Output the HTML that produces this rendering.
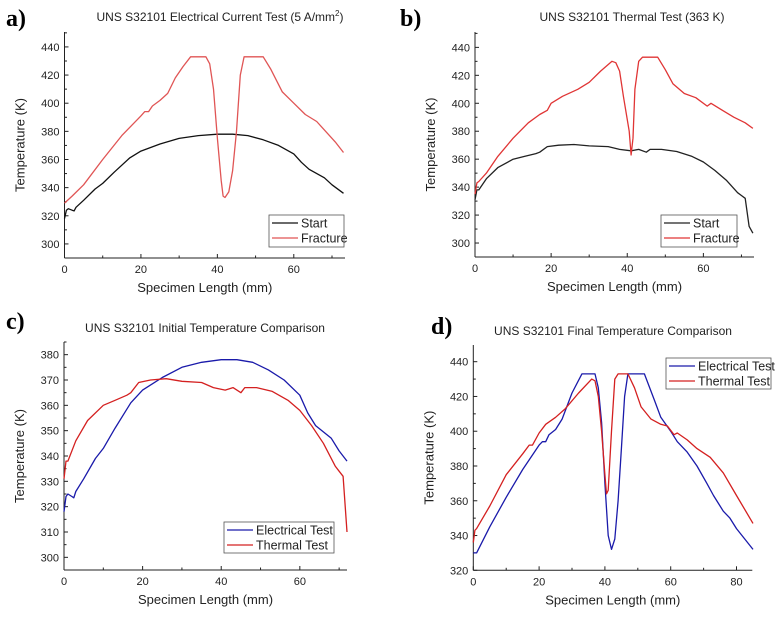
<!DOCTYPE html>
<html><head><meta charset="utf-8">
<style>
body{margin:0;background:#fff;width:781px;height:616px;overflow:hidden}
svg text{font-family:"Liberation Sans",Arial,sans-serif;fill:#222}
.lbl{font-family:"Liberation Serif",serif;font-weight:bold;font-size:24px;fill:#000}
</style></head><body>
<svg id="fig" width="781" height="616" viewBox="0 0 781 616" xmlns="http://www.w3.org/2000/svg"></svg>
<script>
// Panel a
const aStartX=[0,0.5,1,2,2.5,3,5,8,10,13,17,20,25,30,35,40,44,48,52,56,60,62,64,68,70,73];
const aStartY=[318,324,325,324,323.5,326,331,339,343,351,361,366,371,375,377,378,378,377,374,370,364,358,353,347,342,336];
const aFracX=[0,2,5,10,15,20,21,22,23,25,27,29,31,33,37,38,39,40,41,41.5,42,43,44,45,46,47,52,54,57,60,63,66,69,71,73];
const aFracY=[329,334,342,360,377,391,394,394,398,402,407,418,426,433,433,428,410,375,345,334,333,337,352,380,420,433,433,424,408,400,392,387,378,372,365];
// Panel b
const bStartX=[0,0.5,1,3,6,10,13,16,17,19,22,26,30,35,38,41,43,45,46,49,53,57,60,63,66,69,70,71,72,73];
const bStartY=[331,338,338,346,354,360,362,364,365,369,370,370.5,369.5,369,367,366,367,365,367,367,365.5,362,358,352,345,336,334,332,312,307];
const bFracX=[0,0.5,1,3,6,10,14,17,19,20,23,27,30,33,36,37,38,39,40.5,41,41.5,42,43,44,48,50,52,55,58,61,62,65,68,71,73];
const bFracY=[335,343,344,350,362,375,386,392,395,400,405,410,415,423,430,429,423,405,380,363,375,410,430,433,433,424,414,407,404,398,400,395,390,386,382];
// Panel c
const cElecX=[0,0.5,1,2,2.5,3,5,8,10,13,17,20,25,30,35,40,44,48,52,56,60,62,64,68,70,72];
const cElecY=[318,324,325,324,323.5,326,331,339,343,351,361,366,371,375,377,378,378,377,374,370,364,357,352,347,342,338];
const cThermX=[0,0.5,1,3,6,10,13,16,17,19,22,26,30,35,38,41,43,45,46,49,53,57,60,63,66,69,70,71,72];
const cThermY=[331,338,338,346,354,360,362,364,365,369,370,370.5,369.5,369,367,366,367,365,367,367,365.5,362,358,352,345,336,334,332,310];
// Panel d
const dElecX=[0,1,5,10,15,20,21,22,23,25,27,30,33,37,38,39,40,41,42,43,44,45,46,47,52,55,57,60,62,65,68,71,73,76,78,80,85];
const dElecY=[330,330,345,362,378,392,394,394,398,401,407,422,433,433,425,405,370,340,332,338,360,390,420,433,433,418,408,400,394,388,380,370,363,354,350,344,332];
const dThermX=[0,0.5,1,5,10,15,17,18,20,22,25,28,32,36,37,38,39,40,40.5,41,42,43,44,47,49,51,54,57,59,61,62,65,68,72,76,80,85];
const dThermY=[336,343,344,357,375,387,392,392,399,404,408,413,422,430,429,420,400,375,364,366,400,430,433,433,425,414,407,404,403,398,399,395,390,385,376,363,347];
const ticksA=[300,320,340,360,380,400,420,440];
const ticksC=[300,310,320,330,340,350,360,370,380];
const ticksD=[320,340,360,380,400,420,440];
const xTicks60=[0,20,40,60];
const xTicks80=[0,20,40,60,80];

const svg=document.getElementById('fig');
const NS='http://www.w3.org/2000/svg';
function mk(tag,attrs,parent){const e=document.createElementNS(NS,tag);for(const k in attrs)e.setAttribute(k,attrs[k]);(parent||svg).appendChild(e);return e;}

function panel(p){
  const g=mk('g',{});
  
  
  const sx=v=>p.x0+(v-p.xmin)/(p.xmax-p.xmin)*(p.x1-p.x0);
  const sy=v=>p.y0-(v-p.ymin)/(p.ymax-p.ymin)*(p.y0-p.y1);
  const l=mk('text',{x:p.lx,y:p.ly,class:'lbl'},g);l.textContent=p.label;
  
  
  const t=mk('text',{x:p.tx,y:p.ty,'font-size':12,'text-anchor':'middle'},g);t.innerHTML=p.title;
  
  
  mk('line',{x1:p.x0,y1:p.y1,x2:p.x0,y2:p.y0,stroke:'#222','stroke-width':1},g);
  mk('line',{x1:p.x0,y1:p.y0,x2:p.x1,y2:p.y0,stroke:'#222','stroke-width':1},g);
  const ys=p.yt[1]-p.yt[0];
  for(let v=p.yt[0]-ys/2;v<=p.ymax;v+=ys/2){
    if(v<p.ymin)continue;
    const major=Math.abs(((v-p.yt[0])/ys)%1)<1e-6;
    mk('line',{x1:p.x0,x2:p.x0+(major?4:2.5),y1:sy(v),y2:sy(v),stroke:'#222'},g);
  }
  p.yt.forEach(v=>{const tx=mk('text',{x:p.x0-5,y:sy(v)+4,'font-size':11,'text-anchor':'end'},g);tx.textContent=v;
    
    });
  for(let v=0;v<=p.xmax;v+=10){
    const major=v%20===0;
    mk('line',{x1:sx(v),x2:sx(v),y1:p.y0,y2:p.y0-(major?4:2.5),stroke:'#222'},g);
  }
  p.xt.forEach(v=>{const tx=mk('text',{x:sx(v),y:p.y0+15,'font-size':11,'text-anchor':'middle'},g);tx.textContent=v;
    
    });
  const xl=mk('text',{x:(p.x0+p.x1)/2,y:p.y0+34,'font-size':13,'text-anchor':'middle'},g);xl.textContent='Specimen Length (mm)';
  
  
  const yl=mk('text',{x:0,y:0,'font-size':13,'text-anchor':'middle',transform:`translate(${p.x0-40},${(p.y0+p.y1)/2}) rotate(-90)`},g);yl.textContent='Temperature (K)';
  
  
  p.series.forEach(s=>{
    const d=s.x.map((v,i)=>(i?'L':'M')+sx(v).toFixed(1)+','+sy(s.y[i]).toFixed(1)).join('');
    const pa=mk('path',{d:d,fill:'none',stroke:s.c,'stroke-width':1.3,'stroke-linejoin':'round'},g);
    
    
  });
  const L=p.leg;
  const lg=mk('g',{},g);
  
  
  mk('rect',{x:L[0],y:L[1],width:L[2],height:L[3],fill:'#fff',stroke:'#555','stroke-width':0.8},lg);
  p.series.forEach((s,i)=>{
    const yy=L[1]+8+i*15;
    mk('line',{x1:L[0]+3,x2:L[0]+29,y1:yy,y2:yy,stroke:s.c,'stroke-width':1.3},lg);
    const tx=mk('text',{x:L[0]+32,y:yy+4.5,'font-size':12.5},lg);tx.textContent=s.label;
    
    
  });
}
panel({id:'a',label:'a)',lx:6,ly:26,tx:220,ty:21,title:'UNS S32101 Electrical Current Test (5 A/mm<tspan font-size="8" dy="-5">2</tspan><tspan dy="5">)</tspan>',
 x0:64.5,x1:345,xmin:0,xmax:73.4,y0:258,y1:32,ymin:290,ymax:450.6,yt:ticksA,xt:xTicks60,leg:[269,215,75,32],
 series:[{name:'a-start-line',label:'Start',c:'#111',x:aStartX,y:aStartY},{name:'a-fracture-line',label:'Fracture',c:'#e05555',x:aFracX,y:aFracY}]});
panel({id:'b',label:'b)',lx:400,ly:26,tx:632,ty:21,title:'UNS S32101 Thermal Test (363 K)',
 x0:475,x1:754,xmin:0,xmax:73.3,y0:257,y1:32,ymin:290,ymax:451,yt:ticksA,xt:xTicks60,leg:[661,215,76,32],
 series:[{name:'b-start-line',label:'Start',c:'#222',x:bStartX,y:bStartY},{name:'b-fracture-line',label:'Fracture',c:'#e03535',x:bFracX,y:bFracY}]});
panel({id:'c',label:'c)',lx:6,ly:329,tx:205,ty:332,title:'UNS S32101 Initial Temperature Comparison',
 x0:64,x1:347,xmin:0,xmax:72,y0:570,y1:342,ymin:295,ymax:385,yt:ticksC,xt:xTicks60,leg:[224,522,110,31],
 series:[{name:'c-electrical-line',label:'Electrical Test',c:'#1a1aaa',x:cElecX,y:cElecY},{name:'c-thermal-line',label:'Thermal Test',c:'#d42020',x:cThermX,y:cThermY}]});
panel({id:'d',label:'d)',lx:431,ly:334,tx:613,ty:335,title:'UNS S32101 Final Temperature Comparison',
 x0:473.3,x1:752.3,xmin:0,xmax:84.8,y0:570.3,y1:345,ymin:320,ymax:449.6,yt:ticksD,xt:xTicks80,leg:[666,358,105,31],
 series:[{name:'d-electrical-line',label:'Electrical Test',c:'#1a1aaa',x:dElecX,y:dElecY},{name:'d-thermal-line',label:'Thermal Test',c:'#d42020',x:dThermX,y:dThermY}]});
</script>
</body></html>
